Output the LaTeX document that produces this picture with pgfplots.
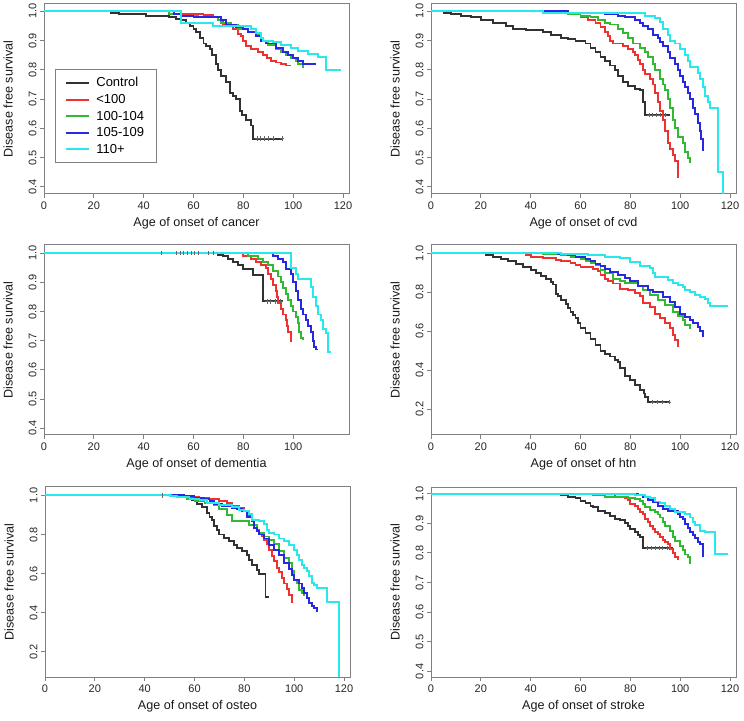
\documentclass[border=0pt]{standalone}
\usepackage{fontspec}
\setmainfont{Liberation Sans}
\usepackage{pgfplots}
\pgfplotsset{compat=1.18}
\definecolor{cctl}{RGB}{50,50,50}
\definecolor{cred}{RGB}{238,50,50}
\definecolor{cgrn}{RGB}{50,185,50}
\definecolor{cblu}{RGB}{40,40,225}
\definecolor{ccya}{RGB}{40,232,235}
\pgfplotsset{
  km/.style={
    width=305pt, height=190pt, scale only axis,
    xmin=0, xmax=122.4,
    xtick={0,20,...,120},
    axis line style={draw=black!50, line width=1pt},
    tick style={draw=black!50, line width=1pt},
    tick align=outside, major tick length=4pt,
    xtick pos=left, ytick pos=left,
    /pgf/number format/assume math mode=true,
    tick label style={font=\fontsize{11}{13}\selectfont, text=black!85},
    yticklabel style={rotate=90, anchor=south, /pgf/number format/fixed, /pgf/number format/fixed zerofill, /pgf/number format/precision=1},
    label style={font=\fontsize{12.6}{15}\selectfont, text=black!90},
    xlabel style={at={(axis description cs:0.5,-0.155)}, anchor=center},
    ylabel style={at={(axis description cs:-0.118,0.5)}, anchor=center},
    ylabel={Disease free survival},
    every axis plot/.append style={const plot, line width=1.9pt, mark=none, line cap=butt},
  },
  ya/.style={ymin=0.376, ymax=1.025, ytick={0.4,0.5,...,1.0}},
  yb/.style={ymin=0.067, ymax=1.043, ytick={0.2,0.4,...,1.0}},
  cens/.style={forget plot, draw=none, only marks, mark=+, mark size=2.2pt, mark options={black!60, line width=0.6pt}},
}
\begin{document}
\begin{tikzpicture}[x=1pt,y=1pt]
\path[use as bounding box] (0,0) rectangle (744,720);

% ---------------- cancer
\begin{axis}[km, ya, at={(44pt,526pt)}, anchor=south west,
  xlabel={Age of onset of cancer},
  legend style={at={(axis description cs:0.036,0.658)}, anchor=north west,
    draw=black!50, line width=1pt, fill=white, font=\fontsize{13}{15}\selectfont,
    inner xsep=10pt, inner ysep=6pt, row sep=2pt, cells={anchor=west},
    /tikz/every odd column/.append style={column sep=4pt}},
  legend image code/.code={\draw[#1, line width=1.9pt] (0pt,0pt) -- (23pt,0pt);},
  legend cell align=left]
\addplot[cctl] coordinates {(14,1.0) (27,0.995) (30,0.99) (41,0.985) (50,0.98) (53,0.975) (55,0.97) (57,0.96) (58.5,0.95) (60,0.94) (61,0.93) (62.5,0.91) (64,0.89) (65,0.88) (66.5,0.87) (67.5,0.85) (69,0.82) (70,0.80) (71,0.78) (73,0.76) (74.5,0.72) (76,0.71) (77,0.70) (78.5,0.66) (79.5,0.645) (81,0.63) (83,0.61) (84,0.565) (96,0.565)};
\addlegendentry{Control}
\addplot[cred] coordinates {(40,1.0) (55,0.992) (64,0.988) (68,0.98) (70,0.972) (72,0.955) (74,0.95) (76,0.94) (78,0.923) (79,0.915) (80,0.90) (81,0.88) (83,0.87) (86,0.862) (88,0.85) (89.5,0.84) (91,0.83) (93,0.825) (95,0.82) (97,0.815) (99,0.815)};
\addlegendentry{<100}
\addplot[cgrn] coordinates {(45,1.0) (50,0.99) (55,0.985) (62,0.98) (70,0.97) (71,0.96) (75,0.955) (78,0.94) (82,0.93) (85,0.92) (87,0.91) (88,0.90) (90,0.885) (93,0.87) (95,0.86) (97,0.85) (99,0.84) (101,0.83) (102,0.82) (104,0.81) (104.5,0.81)};
\addlegendentry{100-104}
\addplot[cblu] coordinates {(37,1.0) (52,0.99) (55,0.985) (60,0.98) (71,0.97) (73,0.955) (77,0.945) (80,0.94) (82,0.93) (85,0.915) (87,0.90) (89,0.89) (93,0.875) (96,0.86) (98,0.85) (100,0.84) (102,0.83) (104,0.82) (109,0.82)};
\addlegendentry{105-109}
\addplot[ccya] coordinates {(0,1.0) (55,0.96) (68,0.95) (83,0.94) (85,0.925) (87,0.91) (88,0.90) (92,0.895) (95,0.885) (99,0.875) (102,0.865) (106,0.855) (110,0.845) (113,0.80) (119,0.80)};
\addlegendentry{110+}
\addplot[cens] coordinates {(85.5,0.565) (87,0.565) (88.5,0.565) (90,0.565) (92,0.565) (95.5,0.565)};
\end{axis}

% ---------------- cvd
\begin{axis}[km, ya, at={(431pt,526pt)}, anchor=south west,
  xlabel={Age of onset of cvd}]
\addplot[cctl] coordinates {(0,1.0) (5,0.995) (8,0.99) (12,0.985) (16,0.98) (20,0.97) (25,0.96) (30,0.95) (33,0.94) (38,0.935) (45,0.93) (48,0.92) (52,0.91) (55,0.905) (58,0.90) (62,0.89) (64,0.875) (66,0.86) (68,0.845) (70,0.83) (72,0.815) (74,0.80) (75,0.78) (77,0.76) (79,0.745) (82,0.735) (84,0.73) (85,0.69) (86,0.645) (96,0.645)};
\addplot[cred] coordinates {(30,1.0) (52,0.998) (55,0.995) (58,0.99) (60,0.98) (63,0.97) (66,0.96) (68,0.945) (70,0.93) (71,0.915) (72,0.90) (73,0.89) (77,0.88) (79,0.87) (81,0.86) (82,0.85) (83,0.835) (84,0.82) (85,0.80) (86,0.785) (88,0.77) (89,0.75) (90,0.72) (91,0.69) (92,0.66) (93,0.63) (94,0.59) (95,0.55) (96,0.53) (97,0.51) (98,0.49) (99,0.435) (99.2,0.435)};
\addplot[cgrn] coordinates {(40,1.0) (50,0.995) (55,0.99) (60,0.985) (64,0.98) (67,0.97) (70,0.96) (72,0.955) (75,0.94) (77,0.925) (79,0.91) (81,0.89) (84,0.875) (86,0.86) (87,0.845) (89,0.82) (90,0.80) (92,0.77) (93,0.75) (94,0.73) (95,0.70) (96,0.67) (97,0.63) (98,0.60) (99,0.57) (101,0.55) (102,0.52) (103,0.50) (104,0.485) (104.3,0.485)};
\addplot[cblu] coordinates {(45,1.0) (55,0.995) (63,0.993) (70,0.99) (75,0.985) (78,0.98) (82,0.97) (84,0.96) (85,0.95) (87,0.94) (89,0.92) (91,0.91) (92,0.895) (93,0.88) (95,0.86) (96,0.84) (98,0.82) (99,0.80) (100,0.78) (101,0.76) (102,0.74) (103,0.72) (104,0.70) (105,0.67) (106,0.65) (107,0.62) (108,0.59) (108.5,0.565) (109,0.525) (109.2,0.525)};
\addplot[ccya] coordinates {(0,1.0) (45,0.995) (86,0.985) (90,0.978) (92,0.965) (93,0.94) (95,0.92) (96,0.90) (98,0.89) (100,0.87) (102,0.85) (103,0.83) (104,0.81) (107,0.79) (108,0.77) (109,0.74) (110,0.71) (111,0.69) (112,0.67) (115,0.45) (117,0.30) (117.2,0.30)};
\addplot[cens] coordinates {(87.5,0.645) (89,0.645) (90.5,0.645) (92,0.645) (94,0.645)};
\end{axis}

% ---------------- dementia
\begin{axis}[km, ya, at={(44pt,285pt)}, anchor=south west,
  xtick={0,20,...,100}, ymin=0.377, ymax=1.028,
  xlabel={Age of onset of dementia}]
\addplot[cctl] coordinates {(64,1.0) (70,0.995) (72,0.99) (74,0.98) (76,0.97) (78,0.96) (80,0.945) (84,0.925) (88,0.835) (96,0.835)};
\addplot[cred] coordinates {(60,1.0) (80,0.99) (83,0.98) (85,0.97) (87,0.96) (89,0.95) (90,0.93) (91,0.91) (92,0.89) (93,0.87) (93.5,0.85) (94,0.83) (95,0.81) (96,0.79) (97,0.77) (97.5,0.75) (98,0.73) (99,0.70) (99.3,0.70)};
\addplot[cgrn] coordinates {(60,1.0) (82,0.99) (86,0.98) (88,0.97) (90,0.96) (92,0.94) (94,0.92) (95,0.90) (96,0.88) (97,0.86) (98,0.84) (99,0.82) (100,0.80) (101,0.78) (102,0.76) (102.5,0.73) (103,0.71) (104,0.705) (104.3,0.705)};
\addplot[cblu] coordinates {(65,1.0) (92,0.99) (94,0.98) (96,0.97) (97,0.945) (99,0.93) (100,0.90) (101,0.87) (102,0.84) (103,0.81) (104,0.79) (105,0.77) (106,0.75) (107,0.73) (108,0.70) (108.5,0.68) (109,0.67) (110,0.67)};
\addplot[ccya] coordinates {(0,1.0) (99,0.95) (101,0.93) (102,0.91) (107,0.885) (108,0.85) (109,0.82) (110,0.79) (111,0.77) (112,0.74) (113,0.725) (114,0.66) (115,0.66)};
\addplot[cens, mark=|] coordinates {(47,1) (53,1) (54.5,1) (56,1) (57.5,1) (59,1) (60.5,1) (62,1) (66,1) (68,1)};
\addplot[cens] coordinates {(89.5,0.835) (91,0.835) (93,0.835) (95,0.835)};
\end{axis}

% ---------------- htn
\begin{axis}[km, yb, at={(431pt,285pt)}, anchor=south west,
  xlabel={Age of onset of htn}]
\addplot[cctl] coordinates {(18,1.0) (22,0.99) (25,0.98) (28,0.97) (31,0.96) (34,0.945) (37,0.93) (40,0.915) (42,0.90) (44,0.885) (46,0.87) (48,0.855) (49,0.84) (50,0.79) (51,0.78) (52,0.76) (54,0.74) (55,0.72) (56,0.70) (57,0.685) (58,0.67) (59,0.64) (60,0.615) (62,0.59) (64,0.56) (66,0.53) (68,0.50) (70,0.485) (72,0.47) (74,0.45) (75,0.44) (76,0.41) (78,0.37) (80,0.35) (82,0.325) (84,0.30) (85.5,0.28) (86,0.26) (87,0.236) (96,0.236)};
\addplot[cred] coordinates {(20,1.0) (38,0.99) (40,0.98) (45,0.975) (50,0.965) (52,0.96) (56,0.95) (58,0.94) (60,0.93) (65,0.92) (67,0.91) (68,0.89) (70,0.87) (71,0.86) (73,0.845) (76,0.815) (79,0.81) (82,0.795) (84,0.78) (85,0.745) (88,0.726) (90,0.69) (92,0.667) (94,0.64) (96,0.615) (97,0.58) (98,0.555) (99,0.525) (99.3,0.525)};
\addplot[cgrn] coordinates {(34,1.0) (45,0.995) (52,0.99) (56,0.98) (60,0.97) (62,0.96) (64,0.95) (66,0.94) (68,0.915) (70,0.90) (73,0.87) (76,0.86) (78,0.846) (83,0.83) (85,0.81) (88,0.786) (91,0.76) (94,0.735) (97,0.70) (99,0.68) (101,0.658) (102,0.63) (104,0.615) (104.3,0.615)};
\addplot[cblu] coordinates {(37,1.0) (51,0.995) (55,0.99) (58,0.98) (62,0.97) (64,0.962) (66,0.945) (68,0.935) (70,0.92) (72,0.906) (75,0.89) (78,0.872) (80,0.86) (83,0.832) (87,0.812) (89,0.80) (93,0.778) (96,0.752) (98,0.726) (100,0.69) (102,0.675) (104,0.66) (105,0.64) (107,0.624) (108,0.60) (109,0.573) (109.3,0.573)};
\addplot[ccya] coordinates {(0,1.0) (52,0.995) (63,0.99) (70,0.98) (76,0.975) (80,0.957) (84,0.935) (88,0.923) (89,0.897) (90,0.88) (95,0.863) (97,0.85) (99,0.838) (101,0.825) (102,0.812) (104,0.80) (106,0.786) (108,0.775) (110,0.764) (111,0.745) (112,0.73) (119,0.73)};
\addplot[cens] coordinates {(89,0.236) (91,0.236) (93,0.236) (95.5,0.236)};
\end{axis}

% ---------------- osteo
\begin{axis}[km, yb, at={(45pt,43pt)}, anchor=south west,
  ymin=0.072, xlabel={Age of onset of osteo}]
\addplot[cctl] coordinates {(50,1.0) (56,0.99) (59,0.975) (61,0.955) (63,0.94) (65,0.91) (66,0.89) (67,0.876) (68,0.845) (69,0.825) (70,0.80) (72,0.782) (74,0.765) (76,0.745) (77,0.73) (79,0.714) (81,0.697) (82,0.67) (83,0.646) (85,0.62) (86,0.60) (88.5,0.48) (90,0.48)};
\addplot[cred] coordinates {(50,1.0) (55,0.995) (58,0.99) (62,0.985) (66,0.98) (70,0.97) (73,0.96) (75,0.945) (78,0.935) (80,0.92) (82,0.90) (83,0.876) (84,0.85) (85,0.825) (86,0.80) (87,0.79) (88,0.774) (89,0.75) (90,0.72) (91,0.69) (92,0.663) (93,0.63) (94,0.61) (95,0.578) (96,0.55) (97,0.52) (98,0.49) (99,0.455) (99.3,0.455)};
\addplot[cgrn] coordinates {(50,1.0) (53,0.99) (57,0.98) (60,0.97) (64,0.96) (68,0.95) (70,0.93) (73,0.90) (75,0.868) (82,0.85) (85,0.816) (86,0.81) (88,0.79) (90,0.774) (92,0.75) (94,0.714) (96,0.68) (98,0.655) (99,0.612) (100,0.57) (101,0.55) (102,0.518) (103,0.50) (104,0.49) (104.3,0.49)};
\addplot[cblu] coordinates {(51,1.0) (56,0.995) (60,0.986) (64,0.98) (66,0.97) (68,0.955) (71,0.944) (75,0.935) (77,0.93) (79,0.918) (81,0.89) (83,0.867) (84,0.833) (85,0.82) (86,0.80) (88,0.78) (90,0.748) (92,0.723) (94,0.697) (96,0.655) (98,0.624) (99,0.595) (100,0.57) (102,0.55) (103,0.525) (104,0.50) (105,0.476) (106,0.45) (107,0.434) (108,0.425) (109,0.41) (109.3,0.41)};
\addplot[ccya] coordinates {(0,1.0) (50,0.995) (53,0.99) (58,0.98) (62,0.975) (65,0.96) (70,0.95) (75,0.94) (78,0.927) (80,0.92) (82,0.905) (83,0.876) (86,0.87) (88,0.854) (89,0.825) (90,0.81) (92,0.80) (94,0.78) (96,0.765) (98,0.745) (100,0.722) (101,0.697) (102,0.67) (103,0.646) (104,0.63) (105,0.612) (106,0.59) (107,0.552) (108,0.54) (109,0.527) (113,0.455) (118,0.072)};
\addplot[cens, mark=|] coordinates {(47,1)};
\end{axis}

% ---------------- stroke
\begin{axis}[km, ya, at={(431pt,43pt)}, anchor=south west,
  ymin=0.381, ymax=1.023, xlabel={Age of onset of stroke}]
\addplot[cctl] coordinates {(40,1.0) (52,0.995) (55,0.99) (58,0.986) (60,0.975) (62,0.97) (64,0.96) (65,0.955) (67,0.943) (70,0.935) (72,0.925) (74,0.915) (76,0.91) (78,0.90) (79,0.89) (80,0.88) (82,0.87) (83,0.86) (84,0.853) (85,0.817) (97,0.817)};
\addplot[cred] coordinates {(60,1.0) (74,0.99) (78,0.985) (79,0.98) (80,0.966) (82,0.96) (83,0.95) (84,0.94) (85,0.932) (86,0.915) (87,0.904) (88,0.89) (89,0.88) (90,0.87) (91,0.864) (92,0.853) (93,0.845) (94,0.836) (95,0.83) (96,0.813) (97,0.80) (98,0.785) (99,0.78) (99.3,0.78)};
\addplot[cgrn] coordinates {(57,1.0) (65,0.995) (70,0.99) (76,0.988) (79,0.985) (82,0.983) (84,0.975) (85,0.965) (86,0.956) (88,0.945) (90,0.938) (91,0.93) (92,0.92) (93,0.905) (94,0.892) (96,0.875) (97,0.853) (98,0.84) (100,0.824) (101,0.81) (102,0.795) (103,0.785) (104,0.765) (104.3,0.765)};
\addplot[cblu] coordinates {(74,1.0) (83,0.995) (85,0.99) (87,0.98) (89,0.972) (91,0.96) (93,0.95) (95,0.941) (99,0.932) (100,0.923) (101,0.915) (102,0.898) (103,0.885) (104,0.87) (105,0.86) (106,0.85) (107,0.836) (108,0.83) (109,0.788) (109.2,0.788)};
\addplot[ccya] coordinates {(0,1.0) (82,0.995) (86,0.99) (88,0.985) (90,0.974) (92,0.968) (94,0.96) (96,0.95) (98,0.94) (100,0.938) (102,0.932) (104,0.92) (105,0.904) (106,0.895) (108,0.875) (110,0.872) (112,0.87) (114,0.796) (119,0.796)};
\addplot[cens] coordinates {(87,0.817) (88.5,0.817) (90,0.817) (91.5,0.817) (93,0.817) (95,0.817)};
\end{axis}
\end{tikzpicture}
\end{document}
